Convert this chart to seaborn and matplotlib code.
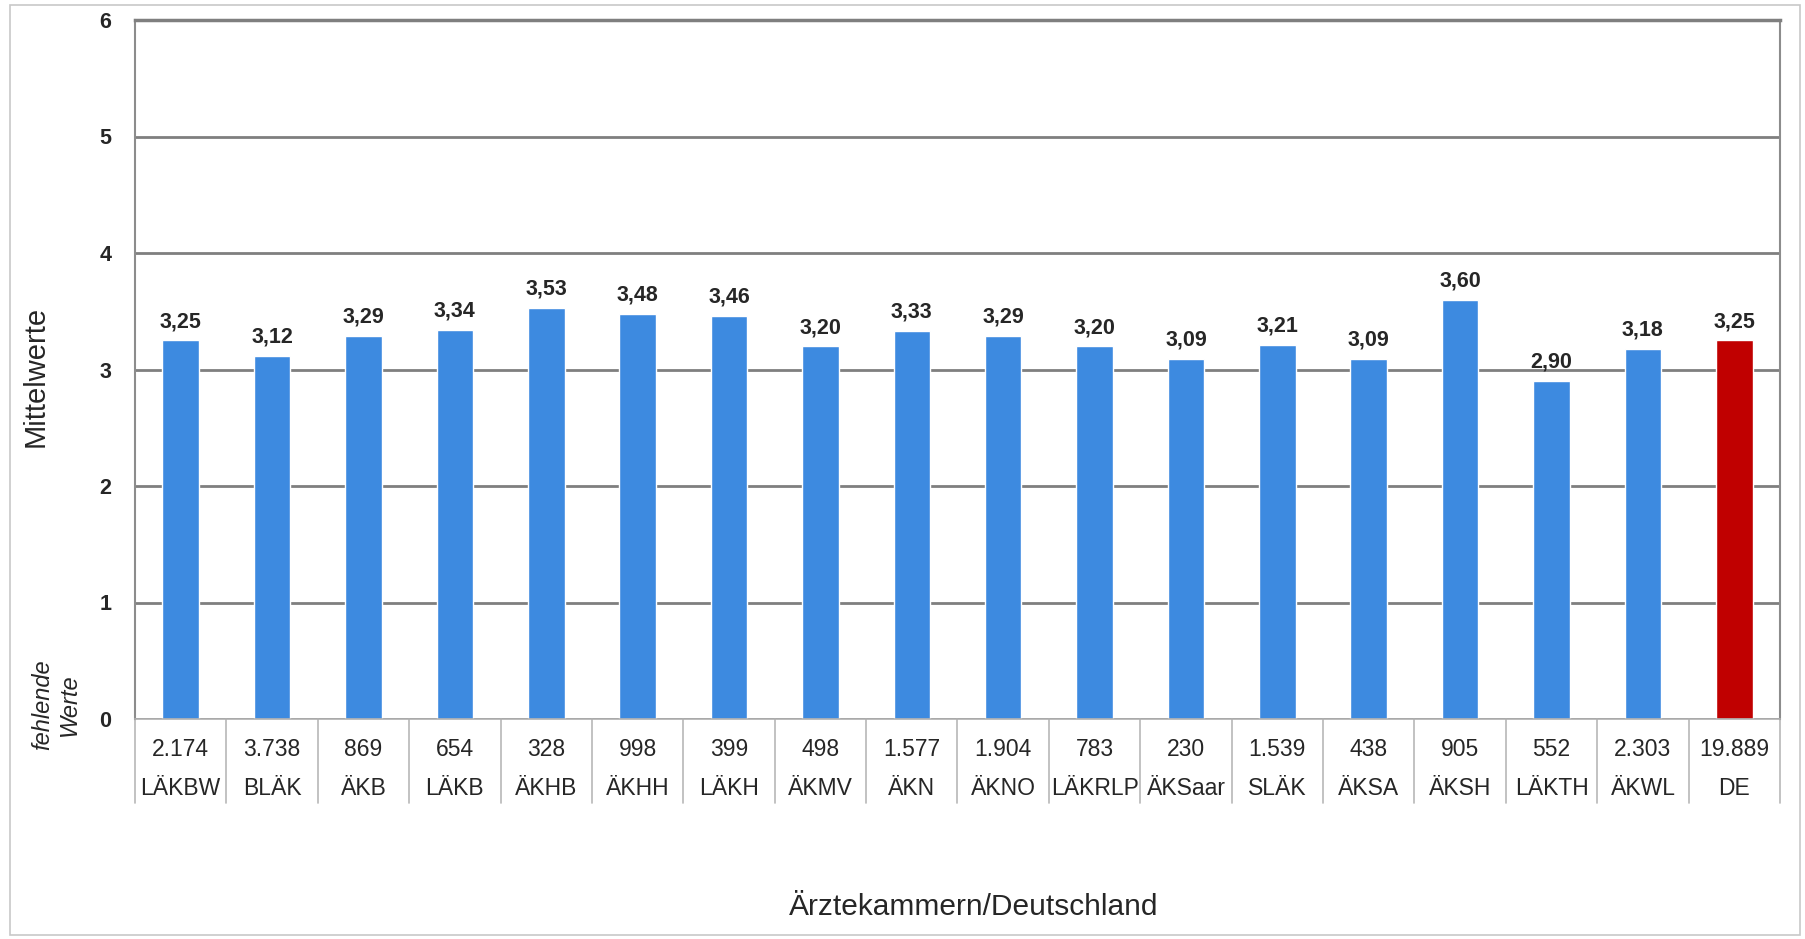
import matplotlib
matplotlib.use('Agg')
import matplotlib.pyplot as plt
import matplotlib.transforms as mtransforms
from matplotlib.patches import Rectangle
import seaborn as sns
import pandas as pd

# data
kammern = ['LÄKBW', 'BLÄK', 'ÄKB', 'LÄKB', 'ÄKHB', 'ÄKHH', 'LÄKH', 'ÄKMV', 'ÄKN',
           'ÄKNO', 'LÄKRLP', 'ÄKSaar', 'SLÄK', 'ÄKSA', 'ÄKSH', 'LÄKTH', 'ÄKWL', 'DE']
mittelwerte = [3.25, 3.12, 3.29, 3.34, 3.53, 3.48, 3.46, 3.20, 3.33,
               3.29, 3.20, 3.09, 3.21, 3.09, 3.60, 2.90, 3.18, 3.25]
fehlende = ['2.174', '3.738', '869', '654', '328', '998', '399', '498', '1.577',
            '1.904', '783', '230', '1.539', '438', '905', '552', '2.303', '19.889']
gruppe = ['Kammer'] * 17 + ['Deutschland']

df = pd.DataFrame({'kammer': kammern, 'wert': mittelwerte, 'gruppe': gruppe})

sns.set_style('white')
plt.rcParams['font.family'] = ['Liberation Sans', 'DejaVu Sans']

fig = plt.figure(figsize=(18.05, 9.39), dpi=100)
ax = fig.add_axes([135 / 1805, 1 - 719 / 939, (1780 - 135) / 1805, (719 - 20) / 939])

# light outer frame
fig.patches.append(Rectangle((10 / 1805, 4 / 939), 1790 / 1805, 930 / 939,
                             transform=fig.transFigure, fill=False,
                             edgecolor='#c8c8c8', linewidth=1.2))

sns.barplot(data=df, x='kammer', y='wert', hue='gruppe',
            palette={'Kammer': '#3d8ae0', 'Deutschland': '#c00000'},
            width=0.4, dodge=False, legend=False, saturation=1, ax=ax)

ax.set_ylim(0, 6)
ax.set_xlim(-0.5, len(kammern) - 0.5)
ax.set_yticks(range(0, 7))
ax.yaxis.grid(True, color='#7f7f7f', linewidth=2)
ax.set_axisbelow(True)
for s in ['left', 'right', 'top']:
    ax.spines[s].set_color('#8c8c8c')
    ax.spines[s].set_linewidth(1.5)
ax.spines['top'].set_color('#7f7f7f')
ax.spines['top'].set_linewidth(2.5)
ax.spines['bottom'].set_color('#b0b0b0')
ax.spines['bottom'].set_linewidth(1.2)
ax.tick_params(axis='y', length=0, pad=17, labelsize=15.5)
for lbl in ax.get_yticklabels():
    lbl.set_fontweight('bold')
ax.set_xticks([])
ax.set_xlabel('')
ax.set_ylabel('Mittelwerte', fontsize=21)
ax.yaxis.set_label_coords(-0.052, 0.49)

# value labels above bars
for i, v in enumerate(mittelwerte):
    ax.text(i, v + 0.07, f'{v:.2f}'.replace('.', ','), ha='center', va='bottom',
            fontsize=15.5, fontweight='bold')

# table of missing values + names below the axis
trans = mtransforms.blended_transform_factory(ax.transData, ax.transAxes)
for i, (n, k) in enumerate(zip(fehlende, kammern)):
    ax.text(i, -0.044, n, transform=trans, ha='center', va='center',
            fontsize=16.5, clip_on=False)
    ax.text(i, -0.1, k, transform=trans, ha='center', va='center',
            fontsize=16.5, clip_on=False)
for b in range(len(kammern) + 1):
    ax.plot([b - 0.5, b - 0.5], [0, -0.12], transform=trans, color='#b8b8b8',
            linewidth=1.2, clip_on=False)

fig.text(56 / 1805, 1 - 705 / 939, 'fehlende\nWerte', rotation=90, style='italic',
         fontsize=17, ha='center', va='center', linespacing=1.25)

fig.text(974 / 1805, 1 - 907 / 939, 'Ärztekammern/Deutschland', fontsize=21.5,
         ha='center', va='center')

fig.savefig('out.png', dpi=100, facecolor='white')
